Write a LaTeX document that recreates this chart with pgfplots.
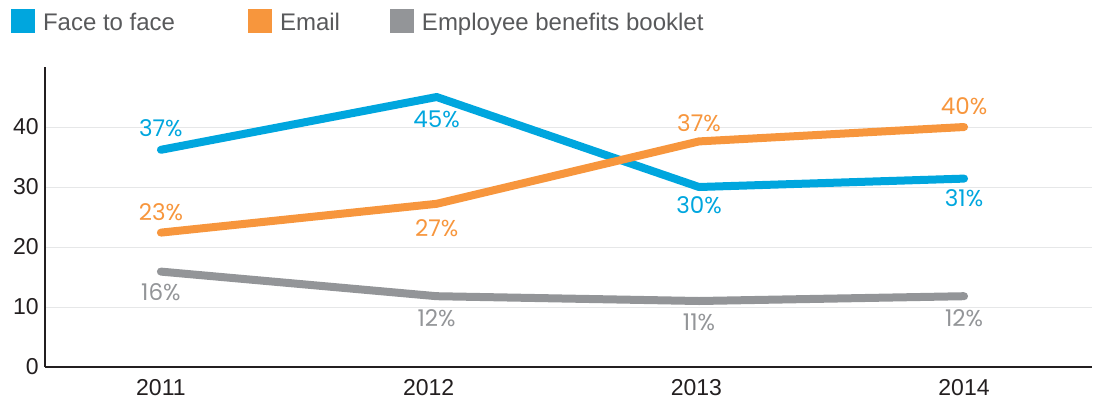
\documentclass[border=0pt]{standalone}
\usepackage{fontspec}
\setmainfont{Liberation Sans}
\newfontfamily\labelfont{Poppins}
\usepackage{pgfplots}
\pgfplotsset{compat=1.18}

\definecolor{ftf}{HTML}{00A6DE}
\definecolor{mail}{HTML}{F7963D}
\definecolor{booklet}{HTML}{939598}
\definecolor{txt}{HTML}{231F20}
\definecolor{legtxt}{HTML}{58595B}
\definecolor{gridc}{HTML}{E6E7E8}

\begin{document}
\begin{tikzpicture}
% canvas, 1px = 0.5pt
\path (-22.5pt,-18pt) rectangle (526.5pt,183.5pt);
\begin{axis}[
    at={(0,0)}, anchor=south west,
    scale only axis, width=523.5pt, height=150pt,
    xmin=2010.567, xmax=2014.478,
    ymin=0, ymax=50,
    axis lines*=left,
    axis line style={line width=0.75pt, color=txt},
    xtick={2011,2012,2013,2014},
    xticklabels={2011,2012,2013,2014},
    ytick={0,10,20,30,40},
    major tick length=0pt,
    tick style={draw=none},
    ymajorgrids,
    grid style={gridc, line width=0.5pt},
    /pgf/number format/assume math mode=true,
    tick label style={font=\fontsize{11.5}{13}\selectfont, text=txt},
    yticklabel style={inner sep=0pt, xshift=-3pt},
    xticklabel style={inner sep=0pt, yshift=-6pt},
    clip=false,
    legend columns=3,
    legend style={at={(-0.03247,1.1923)}, anchor=north west,
        draw=none, fill=none, inner sep=0pt, outer sep=0pt,
        /tikz/column sep=0pt,
        nodes={inner sep=0pt, yshift=3.5pt, font=\fontsize{12}{14}\selectfont, text=legtxt}},
    legend image code/.code={
        \fill[#1, draw=none] (0pt,-1.7pt) rectangle (12pt,10.3pt);
        \path (14pt,0pt);},
    every axis plot/.append style={line width=4pt, line cap=round, line join=round},
]

% Face to face
\addplot[color=ftf] coordinates {
    (2011,36.2) (2012.03,45.0) (2013.01,30.0) (2014,31.4)
};
\addlegendentry{\makebox[102.5pt][l]{Face to face}}

% Email
\addplot[color=mail] coordinates {
    (2011,22.4) (2012.03,27.2) (2013.01,37.6) (2014,40.0)
};
\addlegendentry{\makebox[55pt][l]{Email}}

% Employee benefits booklet
\addplot[color=booklet] coordinates {
    (2011,15.9) (2012.03,11.8) (2013.01,11.0) (2014,11.8)
};
\addlegendentry{Employee benefits booklet}

% value labels
\begin{scope}[every node/.style={font=\labelfont\fontsize{11.5}{13}\selectfont, inner sep=0pt}]
\node[text=ftf] at (axis cs:2011,39.8) {37\%};
\node[text=ftf] at (axis cs:2012.03,41.3) {45\%};
\node[text=ftf] at (axis cs:2013.01,27.0) {30\%};
\node[text=ftf] at (axis cs:2014,28.1) {31\%};
\node[text=mail] at (axis cs:2011,25.8) {23\%};
\node[text=mail] at (axis cs:2012.03,23.2) {27\%};
\node[text=mail] at (axis cs:2013.01,40.6) {37\%};
\node[text=mail] at (axis cs:2014,43.5) {40\%};
\node[text=booklet] at (axis cs:2011,12.5) {16\%};
\node[text=booklet] at (axis cs:2012.03,8.2) {12\%};
\node[text=booklet] at (axis cs:2013.01,7.5) {11\%};
\node[text=booklet] at (axis cs:2014,8.2) {12\%};
\end{scope}

\end{axis}
\end{tikzpicture}
\end{document}
